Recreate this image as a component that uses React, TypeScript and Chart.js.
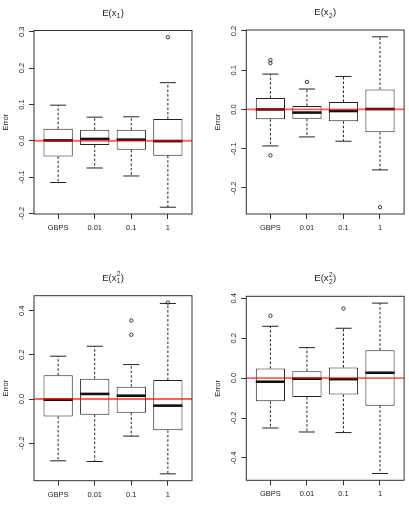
import React, { useEffect, useRef } from "react";
import { Chart, registerables } from "chart.js";

Chart.register(...registerables);

const groups = ["GBPS", "0.01", "0.1", "1"];

// E(x1): whisker ends, quartiles, medians and outliers per group
const x1Low = [-0.115, -0.075, -0.097, -0.183];
const x1Q1 = [-0.043, -0.012, -0.025, -0.041];
const x1Median = [0.001, 0.005, 0.003, -0.001];
const x1Q3 = [0.033, 0.03, 0.03, 0.06];
const x1High = [0.098, 0.065, 0.066, 0.16];
const x1Outliers = [[], [], [], [0.285]];
const x1Ticks = [-0.2, -0.1, 0, 0.1, 0.2, 0.3];

// E(x2)
const x2Low = [-0.093, -0.07, -0.081, -0.154];
const x2Q1 = [-0.025, -0.024, -0.03, -0.058];
const x2Median = [0.0, -0.008, -0.004, 0.001];
const x2Q3 = [0.029, 0.009, 0.019, 0.051];
const x2High = [0.09, 0.052, 0.084, 0.185];
const x2Outliers = [[0.126, 0.118, -0.117], [0.07], [], [-0.249]];
const x2Ticks = [-0.2, -0.1, 0, 0.1, 0.2];

// E(x1^2)
const x1sqLow = [-0.28, -0.283, -0.168, -0.339];
const x1sqQ1 = [-0.079, -0.071, -0.062, -0.142];
const x1sqMedian = [-0.003, 0.023, 0.015, -0.03];
const x1sqQ3 = [0.108, 0.092, 0.056, 0.086];
const x1sqHigh = [0.194, 0.239, 0.156, 0.433];
const x1sqOutliers = [[], [], [0.356, 0.291], [0.437]];
const x1sqTicks = [-0.2, 0, 0.2, 0.4];

// E(x2^2)
const x2sqLow = [-0.25, -0.27, -0.273, -0.478];
const x2sqQ1 = [-0.116, -0.095, -0.082, -0.138];
const x2sqMedian = [-0.018, -0.003, -0.005, 0.027];
const x2sqQ3 = [0.048, 0.035, 0.053, 0.14];
const x2sqHigh = [0.26, 0.153, 0.25, 0.376];
const x2sqOutliers = [[0.313], [], [0.349], []];
const x2sqTicks = [-0.4, -0.2, 0, 0.2, 0.4];

const FONT = '"Liberation Sans", Arial, Helvetica, sans-serif';
const INK = "#222";

type PanelSpec = {
  sub: string;
  sup: string;
  low: number[];
  q1: number[];
  median: number[];
  q3: number[];
  high: number[];
  outliers: number[][];
  ticks: number[];
  // canvas placement and plot-area box (canvas pixels)
  left: number;
  top: number;
  width: number;
  height: number;
  area: { l: number; t: number; r: number; b: number };
};

const panels: PanelSpec[] = [
  {
    sub: "1", sup: "",
    low: x1Low, q1: x1Q1, median: x1Median, q3: x1Q3, high: x1High,
    outliers: x1Outliers, ticks: x1Ticks,
    left: 0, top: 0, width: 204, height: 254,
    area: { l: 34, t: 30.5, r: 192, b: 214 },
  },
  {
    sub: "2", sup: "",
    low: x2Low, q1: x2Q1, median: x2Median, q3: x2Q3, high: x2High,
    outliers: x2Outliers, ticks: x2Ticks,
    left: 204, top: 0, width: 205, height: 254,
    area: { l: 42.3, t: 30, r: 200.3, b: 214 },
  },
  {
    sub: "1", sup: "2",
    low: x1sqLow, q1: x1sqQ1, median: x1sqMedian, q3: x1sqQ3, high: x1sqHigh,
    outliers: x1sqOutliers, ticks: x1sqTicks,
    left: 0, top: 254, width: 204, height: 254,
    area: { l: 34, t: 41.7, r: 192, b: 226.7 },
  },
  {
    sub: "2", sup: "2",
    low: x2sqLow, q1: x2sqQ1, median: x2sqMedian, q3: x2sqQ3, high: x2sqHigh,
    outliers: x2sqOutliers, ticks: x2sqTicks,
    left: 204, top: 254, width: 205, height: 254,
    area: { l: 42.3, t: 42.3, r: 200.3, b: 226.3 },
  },
];

// R-style axis range: data extent widened by 4% on each side
function paddedRange(values: number[]): [number, number] {
  const lo = Math.min(...values);
  const hi = Math.max(...values);
  const d = (hi - lo) * 0.04;
  return [lo - d, hi + d];
}

const Y_AXIS_WIDTH = 33;

function makeExtras(p: PanelSpec) {
  return {
    id: "boxplotExtras",
    beforeDatasetsDraw(chart: any) {
      const { ctx } = chart;
      const xs = chart.scales.x;
      const ys = chart.scales.y;
      const half = xs.getPixelForValue(1.22) - xs.getPixelForValue(1);
      ctx.save();
      ctx.strokeStyle = INK;
      ctx.lineWidth = 1;
      groups.forEach((_, i) => {
        const x = xs.getPixelForValue(i + 1);
        const yHi = ys.getPixelForValue(p.high[i]);
        const yLo = ys.getPixelForValue(p.low[i]);
        const yQ3 = ys.getPixelForValue(p.q3[i]);
        const yQ1 = ys.getPixelForValue(p.q1[i]);
        // dashed whiskers
        ctx.setLineDash([2.5, 2]);
        ctx.beginPath();
        ctx.moveTo(x, yQ3);
        ctx.lineTo(x, yHi);
        ctx.moveTo(x, yQ1);
        ctx.lineTo(x, yLo);
        ctx.stroke();
        // staples
        ctx.setLineDash([]);
        ctx.beginPath();
        ctx.moveTo(x - half, yHi);
        ctx.lineTo(x + half, yHi);
        ctx.moveTo(x - half, yLo);
        ctx.lineTo(x + half, yLo);
        ctx.stroke();
      });
      ctx.restore();
    },
    afterDatasetsDraw(chart: any) {
      const { ctx } = chart;
      const xs = chart.scales.x;
      const ys = chart.scales.y;
      const half = xs.getPixelForValue(1.4) - xs.getPixelForValue(1);
      ctx.save();
      ctx.strokeStyle = "#111";
      ctx.lineWidth = 2.6;
      groups.forEach((_, i) => {
        const x = xs.getPixelForValue(i + 1);
        const y = ys.getPixelForValue(p.median[i]);
        ctx.beginPath();
        ctx.moveTo(x - half, y);
        ctx.lineTo(x + half, y);
        ctx.stroke();
      });
      ctx.restore();
    },
    afterDraw(chart: any) {
      const { ctx, chartArea } = chart;
      const ys = chart.scales.y;
      ctx.save();
      // reference line at zero error
      const y0 = ys.getPixelForValue(0);
      ctx.strokeStyle = "rgba(255, 0, 0, 0.62)";
      ctx.lineWidth = 1.8;
      ctx.setLineDash([]);
      ctx.beginPath();
      ctx.moveTo(chartArea.left, y0);
      ctx.lineTo(chartArea.right, y0);
      ctx.stroke();
      // plot frame
      ctx.strokeStyle = "#333";
      ctx.lineWidth = 1;
      ctx.strokeRect(
        chartArea.left,
        chartArea.top,
        chartArea.right - chartArea.left,
        chartArea.bottom - chartArea.top
      );
      // vertical y tick labels
      ctx.fillStyle = INK;
      ctx.font = `7.5px ${FONT}`;
      ctx.textAlign = "center";
      ctx.textBaseline = "middle";
      ys.ticks.forEach((t: any) => {
        const y = ys.getPixelForValue(t.value);
        ctx.save();
        ctx.translate(chartArea.left - 12, y);
        ctx.rotate(-Math.PI / 2);
        ctx.fillText(t.value.toFixed(1), 0, 0);
        ctx.restore();
      });
      // title E(x_i^k)
      const size = 9.5;
      const small = size * 0.7;
      ctx.textAlign = "left";
      ctx.textBaseline = "alphabetic";
      ctx.font = `${size}px ${FONT}`;
      const w1 = ctx.measureText("E(x").width;
      const w3 = ctx.measureText(")").width;
      ctx.font = `${small}px ${FONT}`;
      const ws = Math.max(
        ctx.measureText(p.sub).width,
        p.sup ? ctx.measureText(p.sup).width : 0
      ) + 0.6;
      const total = w1 + ws + w3;
      const x0 = (chartArea.left + chartArea.right) / 2 - total / 2;
      const base = chartArea.top - 15;
      ctx.font = `${size}px ${FONT}`;
      ctx.fillText("E(x", x0, base);
      ctx.fillText(")", x0 + w1 + ws, base);
      ctx.font = `${small}px ${FONT}`;
      ctx.fillText(p.sub, x0 + w1 + 0.3, base + 2.5);
      if (p.sup) ctx.fillText(p.sup, x0 + w1 + 0.3, base - 4.5);
      ctx.restore();
    },
  };
}

function Panel({ p }: { p: PanelSpec }) {
  const ref = useRef<HTMLCanvasElement>(null);

  useEffect(() => {
    const canvas = ref.current;
    if (!canvas) return;
    const allOutliers = p.outliers.flat();
    const [yMin, yMax] = paddedRange([...p.low, ...p.high, ...allOutliers]);
    const [xMin, xMax] = paddedRange([0.5, groups.length + 0.5]);

    const boxes = groups.map((_, i) => ({ x: i + 1, y: [p.q1[i], p.q3[i]] }));
    const points: { x: number; y: number }[] = [];
    p.outliers.forEach((vals, i) => vals.forEach((v) => points.push({ x: i + 1, y: v })));

    const chart = new Chart(canvas, {
      type: "bar",
      data: {
        datasets: [
          {
            type: "bar",
            data: boxes as any,
            backgroundColor: "#ffffff",
            borderColor: INK,
            borderWidth: 1,
            borderSkipped: false,
            barPercentage: 0.8,
            categoryPercentage: 1,
          },
          {
            type: "scatter",
            data: points,
            pointRadius: 1.7,
            pointBackgroundColor: "rgba(0,0,0,0)",
            pointBorderColor: INK,
            pointBorderWidth: 0.9,
            showLine: false,
          } as any,
        ],
      },
      options: {
        responsive: false,
        animation: false,
        devicePixelRatio: 1,
        events: [],
        layout: {
          padding: {
            left: p.area.l - Y_AXIS_WIDTH,
            top: p.area.t,
            right: p.width - p.area.r,
            bottom: 0,
          },
        },
        plugins: {
          legend: { display: false },
          tooltip: { enabled: false },
          title: { display: false },
        },
        scales: {
          x: {
            type: "linear",
            offset: false,
            min: xMin,
            max: xMax,
            afterBuildTicks: (s: any) => {
              s.ticks = groups.map((_, i) => ({ value: i + 1 }));
            },
            afterFit: (s: any) => {
              s.height = p.height - p.area.b;
              s.paddingLeft = 0;
              s.paddingRight = 0;
            },
            ticks: {
              callback: (v: any) => groups[Math.round(Number(v)) - 1] ?? "",
              autoSkip: false,
              maxRotation: 0,
              minRotation: 0,
              padding: 4.5,
              color: INK,
              font: { family: FONT, size: 7.5 },
            },
            grid: {
              offset: false,
              drawOnChartArea: false,
              drawTicks: true,
              tickLength: 5,
              color: "#333",
            },
            border: { display: false },
          },
          y: {
            type: "linear",
            min: yMin,
            max: yMax,
            afterBuildTicks: (s: any) => {
              s.ticks = p.ticks.map((v) => ({ value: v }));
            },
            afterFit: (s: any) => {
              s.width = Y_AXIS_WIDTH;
              s.paddingTop = 0;
              s.paddingBottom = 0;
            },
            ticks: { display: false },
            grid: {
              drawOnChartArea: false,
              drawTicks: true,
              tickLength: 5,
              color: "#333",
            },
            border: { display: false },
            title: {
              display: true,
              text: "Error",
              color: INK,
              padding: 0,
              font: { family: FONT, size: 7.5 },
            },
          },
        },
      },
      plugins: [makeExtras(p)],
    });
    return () => chart.destroy();
  }, [p]);

  return (
    <canvas
      ref={ref}
      width={p.width}
      height={p.height}
      style={{
        position: "absolute",
        left: p.left,
        top: p.top,
        width: p.width,
        height: p.height,
      }}
    />
  );
}

export default function App() {
  return (
    <div
      style={{
        position: "fixed",
        left: 0,
        top: 0,
        width: 409,
        height: 508,
        background: "#ffffff",
        overflow: "hidden",
      }}
    >
      {panels.map((p, i) => (
        <Panel key={i} p={p} />
      ))}
    </div>
  );
}
